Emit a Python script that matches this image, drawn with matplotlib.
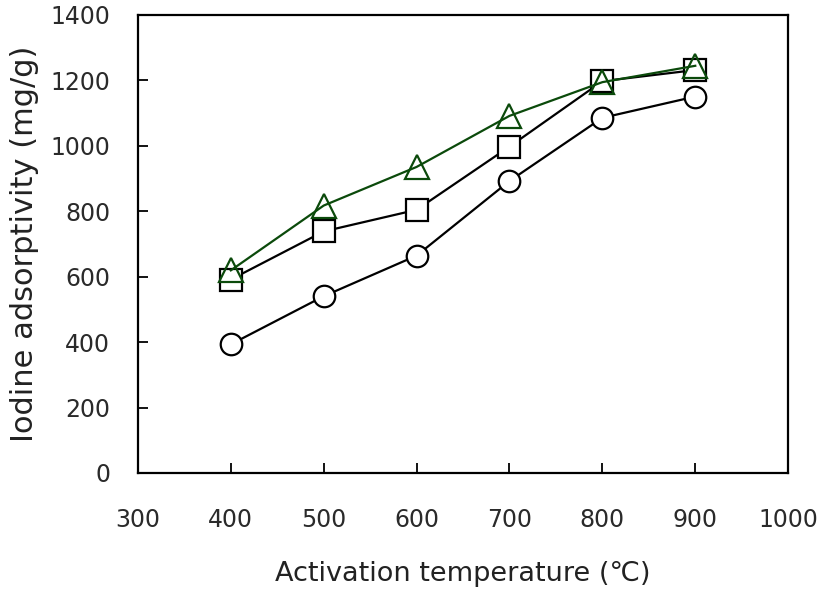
import matplotlib
matplotlib.use("Agg")
import matplotlib.pyplot as plt
from matplotlib import font_manager as fm

temps = [400, 500, 600, 700, 800, 900]
circle_vals = [393, 540, 664, 892, 1085, 1150]
square_vals = [591, 738, 804, 997, 1197, 1231]
triangle_vals = [619, 817, 935, 1091, 1194, 1244]

xticks = [300, 400, 500, 600, 700, 800, 900, 1000]
yticks = [0, 200, 400, 600, 800, 1000, 1200, 1400]

names = {f.name for f in fm.fontManager.ttflist}
tick_family = ['DejaVu Sans Condensed'] if 'DejaVu Sans Condensed' in names else ['DejaVu Sans']

fig = plt.figure(figsize=(8.21, 5.89), dpi=100)
ax = fig.add_axes([0.168, 0.197, 0.792, 0.778])

green = '#0b4a0b'
ax.plot(temps, circle_vals, color='black', lw=1.6, marker='o', ms=15.5,
        mfc='white', mec='black', mew=1.6, zorder=3)
ax.plot(temps, square_vals, color='black', lw=1.6, marker='s', ms=15.5,
        mfc='white', mec='black', mew=1.6, zorder=4)
ax.plot(temps, triangle_vals, color=green, lw=1.6, marker='^', ms=17,
        mfc='none', mec=green, mew=1.6, zorder=5)

ax.set_xlim(300, 1000)
ax.set_ylim(0, 1400)
ax.set_xticks(xticks)
ax.set_yticks(yticks)
tickfont = dict(family=tick_family, size=17, color='#2a2a2a')
ax.set_xticklabels([str(t) for t in xticks], **tickfont)
ax.set_yticklabels([str(t) for t in yticks], **tickfont)
ax.tick_params(direction='in', length=7, width=1.3, top=False, right=False)
ax.tick_params(axis='x', pad=25)
ax.tick_params(axis='y', pad=20)
for s in ax.spines.values():
    s.set_linewidth(1.6)

ax.set_xlabel('Activation temperature (\u2103)', labelpad=21, fontsize=19.5,
              family=['DejaVu Sans'], color='#222222')
ax.set_ylabel('Iodine adsorptivity (mg/g)', labelpad=8, fontsize=22,
              family=['DejaVu Sans'], color='#222222')

fig.savefig('out.png', dpi=100)
